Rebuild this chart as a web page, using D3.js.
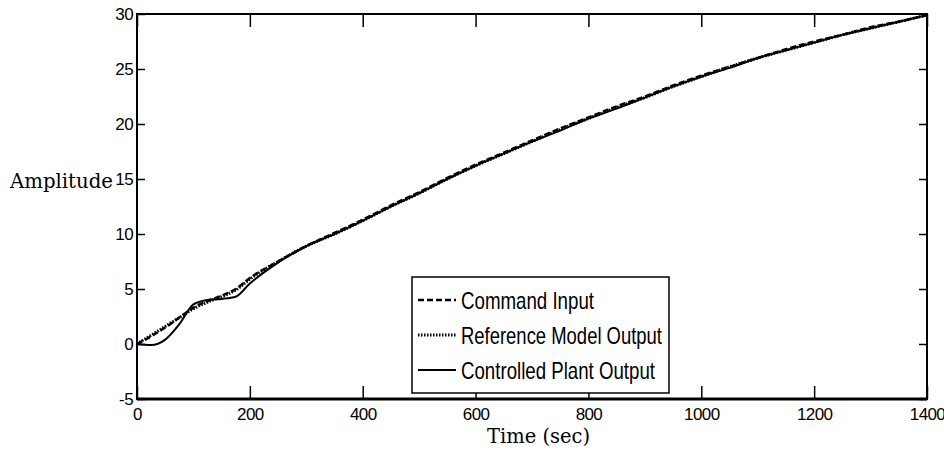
<!DOCTYPE html>
<html>
<head>
<meta charset="utf-8">
<script src="https://cdn.jsdelivr.net/npm/d3@7"></script>
<style>
  body { margin: 0; background: #fff; }
  svg { display: block; }
</style>
</head>
<body>
<svg width="944" height="452"></svg>
<script>
// time axis samples (sec)
var times = [0, 25, 50, 75, 100, 125, 150, 175, 200, 250, 300, 350, 400, 450, 500, 550, 600,
  650, 700, 750, 800, 850, 900, 950, 1000, 1050, 1100, 1150, 1200, 1250, 1300, 1350, 1400];

var commandInput = [0, 0.7, 1.5, 2.4, 3.3, 3.9, 4.4, 5.0, 6.0, 7.5, 8.9, 10.1, 11.3, 12.6, 13.8, 15.1, 16.3,
  17.4, 18.5, 19.6, 20.6, 21.6, 22.5, 23.5, 24.4, 25.2, 26.0, 26.8, 27.5, 28.1, 28.8, 29.3, 29.9];

var referenceModel = [0, 0.8, 1.6, 2.4, 3.2, 3.8, 4.3, 4.9, 5.9, 7.5, 8.9, 10.0, 11.2, 12.5, 13.7, 15.0, 16.2,
  17.3, 18.4, 19.5, 20.5, 21.5, 22.4, 23.4, 24.3, 25.2, 26.0, 26.7, 27.4, 28.1, 28.7, 29.3, 29.9];

var plantOutput = [0, -0.1, 0.4, 1.8, 3.6, 4.0, 4.1, 4.3, 5.5, 7.4, 8.9, 10.0, 11.2, 12.5, 13.7, 15.0, 16.2,
  17.3, 18.4, 19.4, 20.5, 21.4, 22.4, 23.4, 24.3, 25.1, 26.0, 26.7, 27.4, 28.1, 28.7, 29.3, 29.9];

var xTicks = [0, 200, 400, 600, 800, 1000, 1200, 1400];
var yTicks = [-5, 0, 5, 10, 15, 20, 25, 30];

var seriesNames = ["Command Input", "Reference Model Output", "Controlled Plant Output"];
var seriesDash = ["6,3", "1.5,1.5", null];
var seriesWidth = [2.5, 3, 2];
var seriesData = [commandInput, referenceModel, plantOutput];

var svg = d3.select("svg"),
    margin = {top: 14, right: 17, bottom: 53, left: 137},
    width = 944 - margin.left - margin.right,
    height = 452 - margin.top - margin.bottom;

var x = d3.scaleLinear().domain([0, 1400]).range([0, width]),
    y = d3.scaleLinear().domain([-5, 30]).range([height, 0]);

var g = svg.append("g")
    .attr("transform", "translate(" + margin.left + "," + margin.top + ")");

var tickFont = "'Liberation Sans Narrow', 'Arial Narrow', 'Liberation Sans', sans-serif";
var plain = function(d) { return String(d); };

// axes (ticks pointing inward, mirrored on top/right)
var xBottom = g.append("g")
    .attr("transform", "translate(0," + height + ")")
    .call(d3.axisBottom(x).tickValues(xTicks).tickSizeInner(-13).tickSizeOuter(0).tickFormat(plain));
var xTop = g.append("g")
    .call(d3.axisTop(x).tickValues(xTicks).tickSizeInner(-13).tickSizeOuter(0).tickFormat(""));
var yLeft = g.append("g")
    .call(d3.axisLeft(y).tickValues(yTicks).tickSizeInner(-8).tickSizeOuter(0).tickFormat(plain));
var yRight = g.append("g")
    .attr("transform", "translate(" + width + ",0)")
    .call(d3.axisRight(y).tickValues(yTicks).tickSizeInner(-8).tickSizeOuter(0).tickFormat(""));

[xBottom, xTop, yLeft, yRight].forEach(function(a) {
  a.select(".domain").remove();
  a.selectAll(".tick line").attr("stroke", "#000").attr("stroke-width", 1.5);
  a.selectAll(".tick text")
    .style("font-family", tickFont)
    .style("font-size", "17px")
    .style("letter-spacing", "-0.6px")
    .attr("fill", "#000");
});
xBottom.selectAll(".tick text").attr("dy", "0.71em").attr("y", 9);
yLeft.selectAll(".tick text").attr("x", -4);

// frame
g.append("rect")
    .attr("width", width)
    .attr("height", height)
    .attr("fill", "none")
    .attr("stroke", "#000")
    .attr("stroke-width", 2);
g.append("line")
    .attr("x1", 0).attr("x2", width)
    .attr("y1", height).attr("y2", height)
    .attr("stroke", "#000").attr("stroke-width", 3);

var line = d3.line()
    .x(function(d, i) { return x(times[i]); })
    .y(function(d) { return y(d); })
    .curve(d3.curveMonotoneX);

seriesData.forEach(function(s, k) {
  g.append("path")
    .datum(s)
    .attr("fill", "none")
    .attr("stroke", "#000")
    .attr("stroke-width", seriesWidth[k])
    .attr("stroke-dasharray", seriesDash[k])
    .attr("d", line);
});

// legend
var legend = svg.append("g").attr("transform", "translate(412,277)");
legend.append("rect")
    .attr("width", 257)
    .attr("height", 116)
    .attr("fill", "#fff")
    .attr("stroke", "#000")
    .attr("stroke-width", 1.5);
var legendWidths = [133, 201, 194];
seriesNames.forEach(function(name, k) {
  var yy = 23 + k * 35;
  legend.append("line")
    .attr("x1", 6).attr("x2", 44)
    .attr("y1", yy).attr("y2", yy)
    .attr("stroke", "#000")
    .attr("stroke-width", seriesWidth[k])
    .attr("stroke-dasharray", seriesDash[k]);
  legend.append("text")
    .attr("x", 49)
    .attr("y", yy)
    .attr("dy", "0.36em")
    .attr("textLength", legendWidths[k])
    .attr("lengthAdjust", "spacingAndGlyphs")
    .style("font-family", tickFont)
    .style("font-size", "24px")
    .text(name);
});

// axis labels
var labelFont = "'DejaVu Serif', 'Liberation Serif', serif";
svg.append("text")
    .attr("x", 10)
    .attr("y", 188)
    .attr("textLength", 103)
    .attr("lengthAdjust", "spacingAndGlyphs")
    .style("font-family", labelFont)
    .style("font-size", "20px")
    .text("Amplitude");
svg.append("text")
    .attr("x", 487)
    .attr("y", 443)
    .attr("textLength", 103)
    .attr("lengthAdjust", "spacingAndGlyphs")
    .style("font-family", labelFont)
    .style("font-size", "20px")
    .text("Time (sec)");
</script>
</body>
</html>
